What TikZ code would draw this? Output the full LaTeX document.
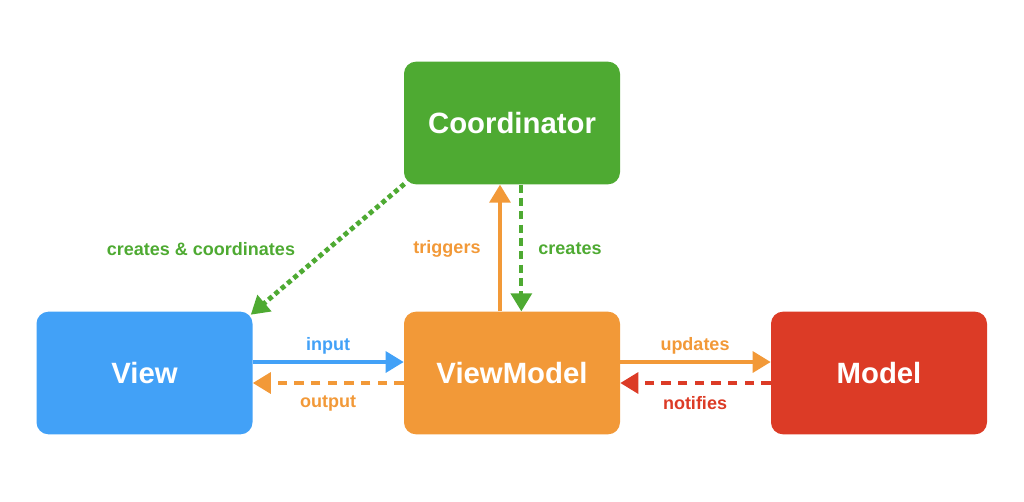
\documentclass[tikz,border=0pt]{standalone}
\usepackage{fontspec}
\setmainfont{Liberation Sans}
\usetikzlibrary{arrows.meta}

\tikzset{
  box/.style={rounded corners=9pt,minimum width=162pt,minimum height=92pt,
    text=white,font=\fontsize{22}{26}\selectfont\bfseries,inner sep=0pt},
  lbl/.style={font=\fontsize{13.5}{16}\selectfont\bfseries,inner sep=0pt},
  link/.style={line width=3pt,-{Triangle[length=13.5pt,width=15.5pt]}},
}

\begin{document}
\begin{tikzpicture}[x=0.75pt,y=-0.75pt]
			\definecolor{cgreen}{rgb}{0.306,0.667,0.196}
			\definecolor{cblue}{rgb}{0.259,0.631,0.969}
			\definecolor{corange}{rgb}{0.949,0.600,0.220}
			\definecolor{cred}{rgb}{0.863,0.231,0.149}
			\useasboundingbox (0,0) rectangle (1024,501);
			%
			\node[box,fill=cgreen] (coord) at (512,123) {Coordinator};
			\node[box,fill=cblue] (view) at (144.5,373) {View};
			\node[box,fill=corange] (vm) at (512,373) {ViewModel};
			\node[box,fill=cred] (model) at (879,373) {Model};
			%
			\draw[link,cgreen,line width=3.6pt,dash pattern=on 3.6pt off 2.6pt] ([xshift=0.5pt,yshift=0.5pt]coord.south west) -- ([xshift=-1.5pt,yshift=-2.5pt]view.north east);
			\draw[link,corange] ([xshift=-9pt]vm.north) -- ([xshift=-9pt]coord.south);
			\draw[link,cgreen,dash pattern=on 6pt off 4pt] ([xshift=7pt]coord.south) -- ([xshift=7pt]vm.north);
			\draw[link,cblue] ([yshift=8.25pt]view.east) -- ([yshift=8.25pt]vm.west);
			\draw[link,corange,dash pattern=on 7pt off 5.5pt] ([yshift=-7.5pt]vm.west) -- ([yshift=-7.5pt]view.east);
			\draw[link,corange] ([yshift=8.25pt]vm.east) -- ([yshift=8.25pt]model.west);
			\draw[link,cred,dash pattern=on 7pt off 5.5pt] ([yshift=-7.5pt]model.west) -- ([yshift=-7.5pt]vm.east);
			%
			\node[lbl,text=cgreen] (lcc) at (201,249) {creates \& coordinates};
			\node[lbl,text=corange] (ltrig) at (447,249) {triggers};
			\node[lbl,text=cgreen] (lcreate) at (570,249) {creates};
			\node[lbl,text=cblue] (lin) at (328,346) {input};
			\node[lbl,text=corange] (lout) at (328,403) {output};
			\node[lbl,text=corange] (lupd) at (695,346) {updates};
			\node[lbl,text=cred] (lnot) at (695,403) {notifies};
			%
\end{tikzpicture}
\end{document}
